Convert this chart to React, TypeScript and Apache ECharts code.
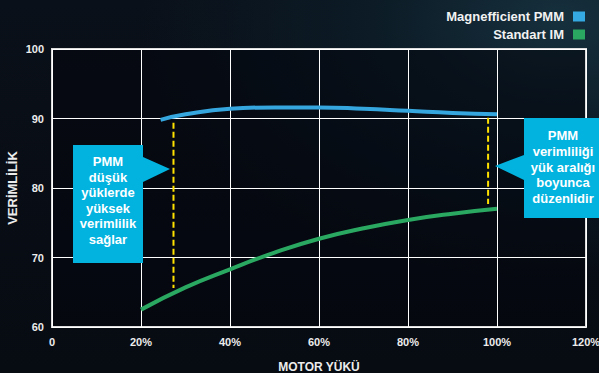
import React, { useEffect, useRef } from "react";
import * as echarts from "echarts";

const xTicks = [0, 20, 40, 60, 80, 100, 120];
const yTicks = [60, 70, 80, 90, 100];
const seriesNames = ["Magnefficient PMM", "Standart IM"];
const pmmLoad = [24.4, 30, 40, 50, 60, 70, 80, 90, 100];
const pmmEff = [89.8, 90.6, 91.4, 91.6, 91.6, 91.4, 91.1, 90.8, 90.6];
const imLoad = [20, 30, 40, 50, 60, 70, 80, 90, 100];
const imEff = [62.5, 65.7, 68.3, 70.7, 72.7, 74.2, 75.4, 76.3, 77.0];
const markerLeft = { x: 27.3, from: 89.4, to: 65.6 };
const markerRight = { x: 98.0, from: 90.1, to: 77.7 };
const calloutLeft = ["PMM", "düşük", "yüklerde", "yüksek", "verimlilik", "sağlar"];
const calloutRight = ["PMM", "verimliliği", "yük aralığı", "boyunca", "düzenlidir"];

const FONT = "'Liberation Sans', Arial, Helvetica, sans-serif";
const BLUE = "#36a6de";
const GREEN = "#2aa862";
const CYAN = "#02b3df";
const YELLOW = "#ffe200";
const LABEL = "#ececec";

export default function App() {
  const ref = useRef<HTMLDivElement>(null);
  useEffect(() => {
    if (!ref.current) return;
    const chart = echarts.init(ref.current, undefined, { renderer: "svg" });
    const zip = (xs: number[], ys: number[]) => xs.map((x, i) => [x, ys[i]]);
    chart.setOption({
      animation: false,
      backgroundColor: "transparent",
      textStyle: { fontFamily: FONT },
      grid: {
        left: 52,
        right: 13,
        top: 49,
        bottom: 46,
        outerBoundsMode: "none",
        containLabel: false,
        show: true,
        borderColor: "#dcdcdc",
        borderWidth: 2,
        backgroundColor: "rgba(3,6,12,0.55)",
      },
      legend: {
        data: seriesNames.map((n, i) => ({
          name: n,
          icon: "rect",
          itemStyle: { color: i === 0 ? "#35a9e1" : GREEN },
        })),
        orient: "vertical",
        align: "right",
        right: 9,
        top: 5,
        itemWidth: 12,
        itemHeight: 10,
        itemGap: 5,
        textStyle: { color: "#f2f2f2", fontWeight: "bold", fontSize: 13, fontFamily: FONT, padding: [0, 4, 0, 0] },
      },
      xAxis: {
        type: "value",
        min: xTicks[0],
        max: xTicks[xTicks.length - 1],
        interval: 20,
        name: "MOTOR YÜKÜ",
        nameLocation: "middle",
        nameGap: 34,
        nameMoveOverlap: false,
        nameTextStyle: { color: LABEL, fontWeight: "bold", fontSize: 12, fontFamily: FONT },
        axisLine: { show: false },
        axisTick: { show: false },
        axisLabel: {
          color: LABEL,
          fontWeight: "bold",
          fontSize: 11,
          fontFamily: FONT,
          margin: 9,
          formatter: (v: number) => (v === 0 ? "0" : v + "%"),
        },
        splitLine: { show: true, lineStyle: { color: "#ffffff", width: 1 } },
      },
      yAxis: {
        type: "value",
        min: yTicks[0],
        max: yTicks[yTicks.length - 1],
        interval: 10,
        name: "VERİMLİLİK",
        nameLocation: "middle",
        nameGap: 33,
        nameRotate: 90,
        nameMoveOverlap: false,
        nameTextStyle: { color: LABEL, fontWeight: "bold", fontSize: 13, fontFamily: FONT },
        axisLine: { show: false },
        axisTick: { show: false },
        axisLabel: { color: LABEL, fontWeight: "bold", fontSize: 11, fontFamily: FONT, margin: 8 },
        splitLine: { show: true, lineStyle: { color: "#ffffff", width: 1 } },
      },
      series: [
        {
          name: seriesNames[0],
          type: "line",
          smooth: true,
          showSymbol: false,
          color: BLUE,
          lineStyle: { width: 4, color: BLUE },
          data: zip(pmmLoad, pmmEff),
          z: 3,
        },
        {
          name: seriesNames[1],
          type: "line",
          smooth: true,
          showSymbol: false,
          color: GREEN,
          lineStyle: { width: 4, color: GREEN },
          data: zip(imLoad, imEff),
          z: 3,
        },
        {
          name: "marker-left",
          type: "line",
          showSymbol: false,
          lineStyle: { width: 2, color: YELLOW, type: [6, 3] },
          data: [
            [markerLeft.x, markerLeft.from],
            [markerLeft.x, markerLeft.to],
          ],
          z: 2,
        },
        {
          name: "marker-right",
          type: "line",
          showSymbol: false,
          lineStyle: { width: 2, color: YELLOW, type: [6, 3] },
          data: [
            [markerRight.x, markerRight.from],
            [markerRight.x, markerRight.to],
          ],
          z: 2,
        },
      ],
      graphic: [
        {
          type: "polygon",
          shape: {
            points: [
              [73, 145],
              [143, 145],
              [143, 157],
              [170, 169],
              [143, 182],
              [143, 263],
              [73, 263],
            ],
          },
          style: { fill: CYAN },
          z: 10,
        },
        {
          type: "text",
          x: 108,
          y: 200.5,
          style: {
            text: calloutLeft.join("\n"),
            fill: "#ffffff",
            font: `bold 13px ${FONT}`,
            lineHeight: 15.6,
            align: "center",
            verticalAlign: "middle",
          },
          z: 11,
        },
        {
          type: "polygon",
          shape: {
            points: [
              [524, 118],
              [600, 118],
              [600, 218],
              [524, 218],
              [524, 180],
              [495, 166],
              [524, 155],
            ],
          },
          style: { fill: CYAN },
          z: 10,
        },
        {
          type: "text",
          x: 563,
          y: 167,
          style: {
            text: calloutRight.join("\n"),
            fill: "#ffffff",
            font: `bold 13px ${FONT}`,
            lineHeight: 15.8,
            align: "center",
            verticalAlign: "middle",
          },
          z: 11,
        },
      ],
    });
    return () => chart.dispose();
  }, []);
  return (
    <div
      style={{
        position: "fixed",
        left: 0,
        top: 0,
        width: 599,
        height: 373,
        background:
          "radial-gradient(ellipse 420px 260px at 560px 20px, #16303d 0%, #0c1b26 45%, rgba(8,13,20,0) 100%), linear-gradient(180deg, #0a1019 0%, #070b12 100%)",
      }}
    >
      <div ref={ref} style={{ width: 599, height: 373 }} />
    </div>
  );
}
